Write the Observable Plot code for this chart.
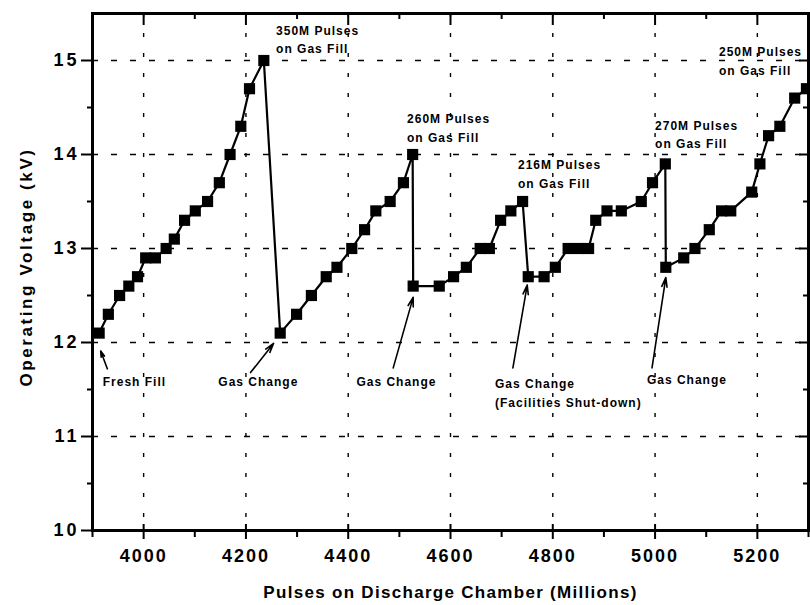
<!DOCTYPE html>
<html>
<head>
<meta charset="utf-8">
<script src="https://cdn.jsdelivr.net/npm/d3@7"></script>
<script src="https://cdn.jsdelivr.net/npm/@observablehq/plot@0.6"></script>
<style>
  html, body { margin: 0; padding: 0; background: #fff; }
  #chart svg { display: block; }
  g[aria-label="x-axis tick label"] text { letter-spacing: 2px; }
  g[aria-label="y-axis tick label"] text { letter-spacing: 3px; }
</style>
</head>
<body>
<div id="chart"></div>
<script>
// ---- data ----
const pulses = [
  3913, 3931, 3953, 3971, 3988, 4004, 4023, 4044, 4060, 4080,
  4101, 4125, 4148, 4169, 4190, 4207, 4235,
  4267, 4299, 4328, 4357, 4378, 4407, 4432, 4454, 4482, 4508, 4526,
  4527, 4578, 4606, 4631, 4658, 4676, 4698, 4718, 4741,
  4752, 4783, 4805, 4830, 4850, 4870, 4884, 4906, 4934, 4973, 4995, 5020,
  5021, 5056, 5078, 5106, 5130, 5148, 5189, 5205, 5222, 5244, 5273, 5296
];
const voltage = [
  12.1, 12.3, 12.5, 12.6, 12.7, 12.9, 12.9, 13.0, 13.1, 13.3,
  13.4, 13.5, 13.7, 14.0, 14.3, 14.7, 15.0,
  12.1, 12.3, 12.5, 12.7, 12.8, 13.0, 13.2, 13.4, 13.5, 13.7, 14.0,
  12.6, 12.6, 12.7, 12.8, 13.0, 13.0, 13.3, 13.4, 13.5,
  12.7, 12.7, 12.8, 13.0, 13.0, 13.0, 13.3, 13.4, 13.4, 13.5, 13.7, 13.9,
  12.8, 12.9, 13.0, 13.2, 13.4, 13.4, 13.6, 13.9, 14.2, 14.3, 14.6, 14.7
];

// tick values
const xMajorTicks = [4000, 4200, 4400, 4600, 4800, 5000, 5200];
const xMinorTicks = [3900, 4100, 4300, 4500, 4700, 4900, 5100, 5300];
const yMajorTicks = [10, 11, 12, 13, 14, 15];
const yGridTicks = [11, 12, 13, 14, 15];
const yMinorTicks = [10.5, 11.5, 12.5, 13.5, 14.5];

// titles
const xTitle = "Pulses on Discharge Chamber (Millions)";
const yTitle = "Operating Voltage (kV)";

// annotations
const noteText = [
  "350M Pulses\non Gas Fill",
  "260M Pulses\non Gas Fill",
  "216M Pulses\non Gas Fill",
  "270M Pulses\non Gas Fill",
  "250M Pulses\non Gas Fill",
  "Fresh Fill",
  "Gas Change",
  "Gas Change",
  "Gas Change\n(Facilities Shut-down)",
  "Gas Change"
];
const noteX = [4259, 4515, 4732, 5000, 5125, 3920, 4146, 4416, 4687, 4984];
const noteY = [15.24, 14.30, 13.81, 14.23, 15.01, 11.60, 11.60, 11.60, 11.48, 11.62];

// arrows (tail -> head)
const arrowX1 = [3929, 4209, 4488, 4722, 4994];
const arrowY1 = [11.72, 11.68, 11.73, 11.73, 11.73];
const arrowX2 = [3916, 4254, 4527, 4750, 5021];
const arrowY2 = [11.91, 11.99, 12.48, 12.61, 12.69];

// ---- build ----
const W = 810, H = 605;
const mL = 92, mR = 2, mT = 13, mB = 75;
const plotW = W - mL - mR, plotH = H - mT - mB;

const data = pulses.map((x, i) => ({x, y: voltage[i]}));
const notes = noteText.map((t, i) => ({x: noteX[i], y: noteY[i], text: t}));
const arrows = arrowX1.map((x1, i) => ({x1, y1: arrowY1[i], x2: arrowX2[i], y2: arrowY2[i]}));

const chart = Plot.plot({
  width: W,
  height: H,
  marginLeft: mL,
  marginRight: mR,
  marginTop: mT,
  marginBottom: mB,
  style: {fontFamily: "'Liberation Sans', Arial, sans-serif", fontWeight: "bold", background: "#fff", color: "#000", overflow: "visible"},
  x: {domain: [3900, 5300]},
  y: {domain: [10, 15.5]},
  marks: [
    Plot.gridX(xMajorTicks, {stroke: "#000", strokeOpacity: 1, strokeWidth: 1.4, strokeDasharray: "4,16"}),
    Plot.gridY(yGridTicks, {stroke: "#000", strokeOpacity: 1, strokeWidth: 1.4, strokeDasharray: "6,13"}),
    Plot.axisX(xMajorTicks, {anchor: "bottom", tickSize: 0, tickPadding: 19, fontSize: 18, tickFormat: d => String(d), label: null}),
    Plot.axisY(yMajorTicks, {anchor: "left", tickSize: 0, tickPadding: 13, fontSize: 18, tickFormat: d => String(d), label: null}),
    // bottom ticks
    Plot.ruleX(xMajorTicks, {x: d => d, insetTop: plotH - 6, insetBottom: -9, strokeWidth: 2}),
    Plot.ruleX(xMinorTicks, {x: d => d, insetTop: plotH, insetBottom: -7, strokeWidth: 2}),
    // top ticks (inward)
    Plot.ruleX(xMajorTicks, {x: d => d, insetBottom: plotH - 12, strokeWidth: 2}),
    Plot.ruleX(xMinorTicks, {x: d => d, insetBottom: plotH - 6, strokeWidth: 2}),
    // left ticks (outward)
    Plot.ruleY(yMajorTicks, {y: d => d, insetLeft: -11, insetRight: plotW - 2, strokeWidth: 2}),
    Plot.ruleY(yMinorTicks, {y: d => d, insetLeft: -5, insetRight: plotW, strokeWidth: 2}),
    // right ticks (inward)
    Plot.ruleY(yMajorTicks, {y: d => d, insetLeft: plotW - 9, strokeWidth: 2}),
    Plot.ruleY(yMinorTicks, {y: d => d, insetLeft: plotW - 5, strokeWidth: 2}),
    Plot.frame({stroke: "#000", strokeWidth: 3}),
    Plot.line(data, {x: "x", y: "y", stroke: "#000", strokeWidth: 2.2, clip: true}),
    Plot.dot(data, {x: "x", y: "y", symbol: "square", r: 6.3, fill: "#000", stroke: null, clip: true}),
    Plot.text(notes, {x: "x", y: "y", text: "text", textAnchor: "start", lineAnchor: "middle", fontSize: 12, lineHeight: 1.55, fill: "#000"}),
    Plot.arrow(arrows, {x1: "x1", y1: "y1", x2: "x2", y2: "y2", stroke: "#000", strokeWidth: 1.6, headLength: 9, headAngle: 32}),
    Plot.text([xTitle], {text: d => d, frameAnchor: "bottom", textAnchor: "middle", lineAnchor: "middle", dy: 62, fontSize: 17, fill: "#000"}),
    Plot.text([yTitle], {text: d => d, frameAnchor: "left", textAnchor: "middle", lineAnchor: "middle", dx: -66, dy: -5, rotate: -90, fontSize: 17, fill: "#000"})
  ]
});

// letter spacing tweaks to match the reference typography
d3.select(chart).selectAll("text").each(function () {
  const t = this.textContent;
  if (t === xTitle) this.style.letterSpacing = "1.3px";
  else if (t === yTitle) this.style.letterSpacing = "2.6px";
  else if (/Pulses|Gas|Fresh/.test(t)) this.style.letterSpacing = "1px";
});

document.getElementById("chart").appendChild(chart);
</script>
</body>
</html>
